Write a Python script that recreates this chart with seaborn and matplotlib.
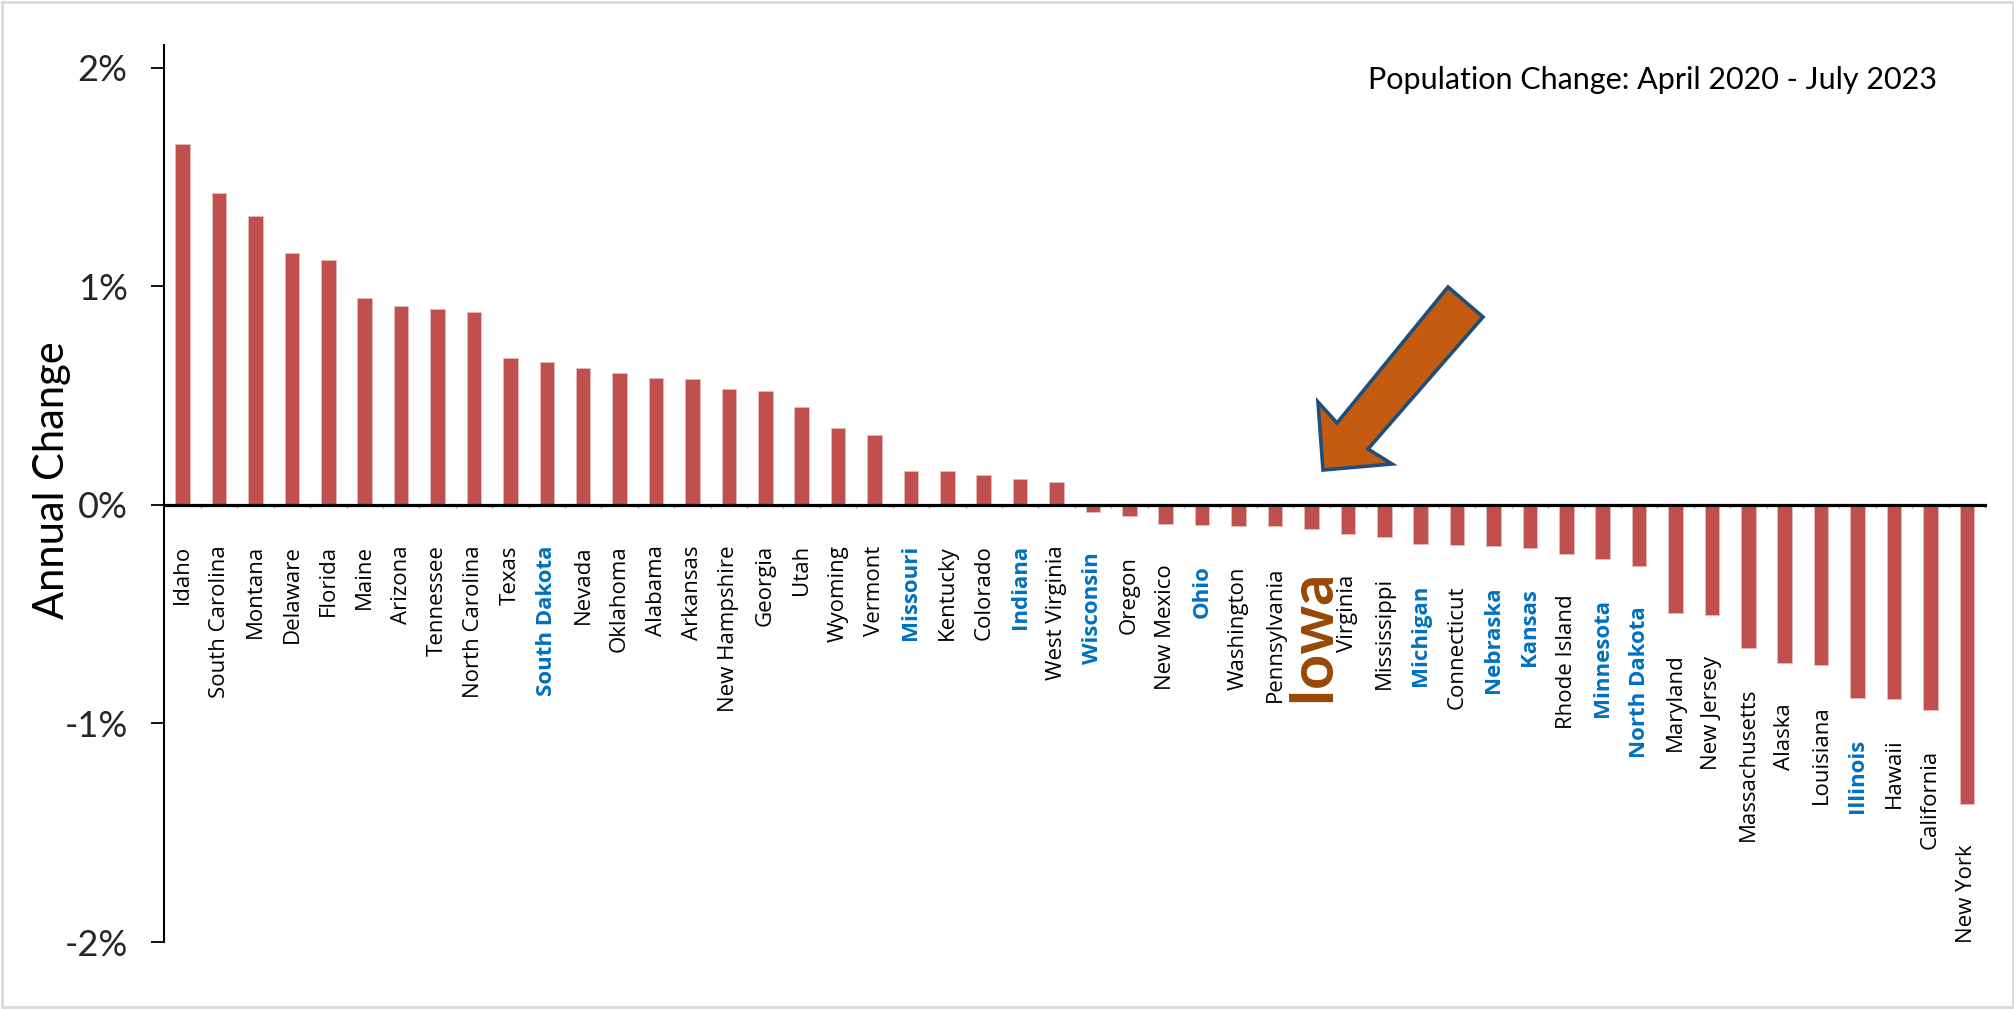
import matplotlib
matplotlib.use("Agg")
import matplotlib.pyplot as plt
from matplotlib.patches import Polygon, Rectangle
from matplotlib.ticker import FixedLocator
import seaborn as sns
import pandas as pd

# Average annual population change by state, April 2020 - July 2023 (percent)
states = [
    "Idaho", "South Carolina", "Montana", "Delaware", "Florida", "Maine",
    "Arizona", "Tennessee", "North Carolina", "Texas", "South Dakota", "Nevada",
    "Oklahoma", "Alabama", "Arkansas", "New Hampshire", "Georgia", "Utah",
    "Wyoming", "Vermont", "Missouri", "Kentucky", "Colorado", "Indiana",
    "West Virginia", "Wisconsin", "Oregon", "New Mexico", "Ohio", "Washington",
    "Pennsylvania", "Iowa", "Virginia", "Mississippi", "Michigan", "Connecticut",
    "Nebraska", "Kansas", "Rhode Island", "Minnesota", "North Dakota", "Maryland",
    "New Jersey", "Massachusetts", "Alaska", "Louisiana", "Illinois", "Hawaii",
    "California", "New York",
]
annual_change = [
    1.651, 1.427, 1.322, 1.151, 1.122, 0.945,
    0.910, 0.899, 0.884, 0.671, 0.656, 0.629,
    0.606, 0.583, 0.575, 0.529, 0.522, 0.450,
    0.354, 0.320, 0.154, 0.154, 0.137, 0.121,
    0.104, -0.034, -0.049, -0.087, -0.092, -0.096,
    -0.097, -0.108, -0.133, -0.145, -0.178, -0.183,
    -0.188, -0.195, -0.224, -0.246, -0.279, -0.493,
    -0.505, -0.653, -0.723, -0.734, -0.885, -0.886,
    -0.938, -1.370,
]
midwest = ["South Dakota", "Missouri", "Indiana", "Wisconsin", "Ohio", "Michigan",
           "Nebraska", "Kansas", "Minnesota", "North Dakota", "Illinois"]
focus_state = "Iowa"
y_ticks = [-2, -1, 0, 1, 2]
y_tick_labels = ["-2%", "-1%", "0%", "1%", "2%"]
title_text = "Population Change: April 2020 - July 2023"
y_label = "Annual Change"

df = pd.DataFrame({"state": states, "change": annual_change})

sns.set_theme(style="white")
plt.rcParams["font.family"] = ["Lato", "DejaVu Sans"]

W, H = 2015, 1009
fig = plt.figure(figsize=(W / 100, H / 100), dpi=100)
fig.patch.set_facecolor("white")
# thin grey frame around the figure
fig.patches.append(Rectangle((0.001, 0.002), 0.998, 0.996, transform=fig.transFigure,
                             fill=False, edgecolor="#D9D9D9", lw=2.0))

ax = fig.add_axes([164.5 / W, 1 - 942 / H, (1985 - 164.5) / W, (942 - 45) / H])

sns.barplot(data=df, x="state", y="change", color="#C0504D", saturation=1,
            width=0.4, edgecolor="#E6B9B8", linewidth=0.6, ax=ax)

ax.set_xlim(-0.5, len(states) - 0.5)
ax.set_ylim(-2, 2.105)

# axes styling
for s in ["top", "right"]:
    ax.spines[s].set_visible(False)
ax.spines["left"].set_color("black")
ax.spines["left"].set_linewidth(1.5)
ax.spines["bottom"].set_position(("data", 0))
ax.spines["bottom"].set_color("black")
ax.spines["bottom"].set_linewidth(2.3)
ax.spines["bottom"].set_zorder(5)

ax.set_yticks(y_ticks)
ax.set_yticklabels(y_tick_labels)
ax.tick_params(axis="y", direction="out", length=9.5, width=1.3, color="black",
               pad=17, labelsize=26, left=True)
ax.set_xticks([])
ax.xaxis.set_minor_locator(FixedLocator([i + 0.5 for i in range(len(states))]))
ax.tick_params(axis="x", which="minor", direction="out", length=2.0, width=1.0,
               color="#A6A6A6", bottom=True)
ax.set_xlabel("")
ax.set_ylabel("")

# state names hang below each bar
for i, (name, v) in enumerate(zip(states, annual_change)):
    base = min(v, 0)
    if name == focus_state:
        kw = dict(fontsize=44, fontweight="bold", color="#984807", family=["Lato", "DejaVu Sans"])
    elif name in midwest:
        kw = dict(fontsize=16, fontweight="bold", color="#0070C0", family=["Open Sans", "DejaVu Sans"])
    else:
        kw = dict(fontsize=16, color="black", family=["Open Sans", "DejaVu Sans"])
    ax.annotate(name, xy=(i, base), xytext=(0, -29), textcoords="offset points",
                rotation=90, ha="center", va="top", **kw)

fig.text(1937 / W, 1 - 80 / H, title_text, ha="right", va="center", fontsize=22,
         color="black")
fig.text(52 / W, 1 - 480 / H, y_label, ha="center", va="center", rotation=90,
         fontsize=30, color="black")

# block arrow pointing at the Iowa bar
arrow_px = [(1448, 287), (1483, 317), (1368, 449), (1392, 464), (1323, 470),
            (1318, 402), (1337, 423)]
arrow = Polygon([(x / W, 1 - y / H) for x, y in arrow_px], closed=True,
                transform=fig.transFigure, facecolor="#C55A11", edgecolor="#1F4E79",
                lw=2.6, joinstyle="miter", zorder=10)
fig.patches.append(arrow)

fig.savefig("out.png", dpi=100, facecolor="white")
